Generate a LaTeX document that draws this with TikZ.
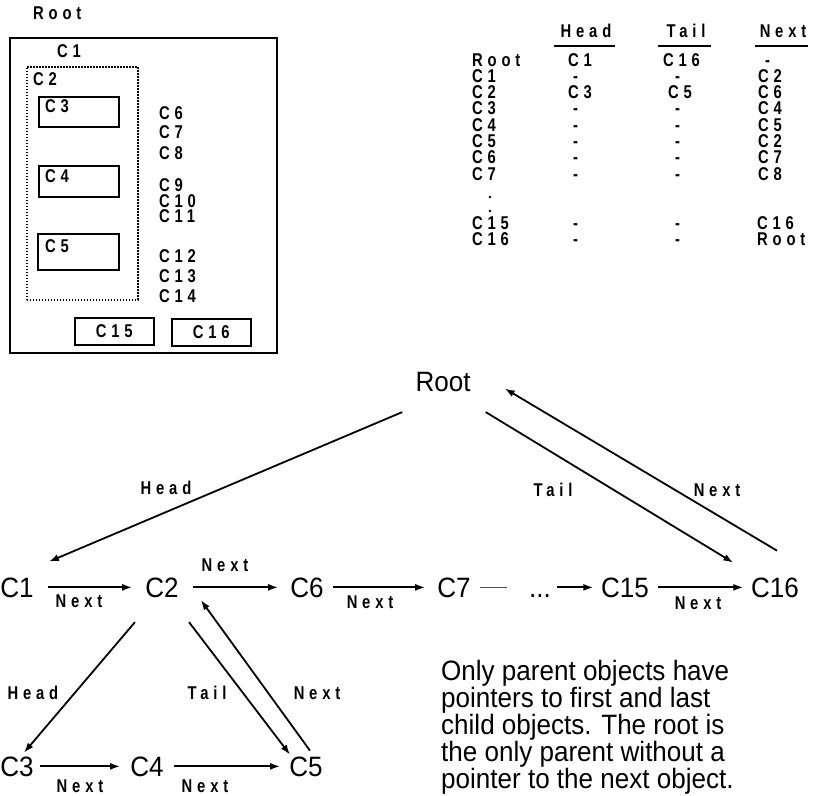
\documentclass[tikz,border=0pt]{standalone}
\usepackage{fontspec}
\setmainfont{Liberation Sans}
\newfontfamily\bigfont[FakeStretch=0.93]{Liberation Sans}
\newfontfamily\tagfont[FakeStretch=0.8,LetterSpace=26]{Liberation Sans Bold}
\usetikzlibrary{arrows.meta}

\begin{document}
\begin{tikzpicture}[x=1pt,y=-1pt,
  big/.style={font=\bigfont\fontsize{28}{28}\selectfont, inner sep=0pt, anchor=base},
  tag/.style={font=\tagfont\fontsize{18.5}{18.5}\selectfont, inner sep=0pt, text height=13pt, text depth=0pt},
  arr/.style={line width=1.8pt, -{Latex[length=10pt,width=7pt]}},
  box/.style={draw, line width=1.6pt, inner sep=0pt, anchor=north west},
  uline/.style={line width=1.6pt}]
\useasboundingbox (0,0) rectangle (813,795);

% ---------- containment sketch ----------
\node[tag, anchor=base west] (sRoot) at (33,19) {Root};
\node[box, minimum width=267pt, minimum height=315pt] (outer) at (9,37) {};
\node[tag, anchor=base west] (sC1) at (57,57) {C1};
\node[box, dash pattern=on 1.6pt off 1.4pt, minimum width=111pt, minimum height=233pt] (grp) at (26,66) {};
\node[tag, anchor=base west] (sC2) at (33,85) {C2};
\node[box, minimum width=80pt, minimum height=30pt] (b3) at (38,96) {};
\node[box, minimum width=80pt, minimum height=31pt] (b4) at (38,165) {};
\node[box, minimum width=81pt, minimum height=36pt] (b5) at (37,233) {};
\node[tag, anchor=base west] (sC3) at (45,112) {C3};
\node[tag, anchor=base west] (sC4) at (45,182) {C4};
\node[tag, anchor=base west] (sC5) at (45,252) {C5};
\foreach \nm/\yb in {C6/119, C7/138, C8/159, C9/191, C10/207, C11/222, C12/262, C13/282, C14/302}
  \node[tag, anchor=base west] (s\nm) at (159,\yb) {\nm};
\node[box, tag, draw, minimum width=79pt, minimum height=27pt] (b15) at (74,317) {C15};
\node[box, tag, draw, minimum width=79pt, minimum height=27pt] (b16) at (171,318) {C16};

% ---------- pointer table ----------
\node[tag, anchor=base] (hHead) at (586,37) {Head};
\node[tag, anchor=base] (hTail) at (686,37) {Tail};
\node[tag, anchor=base] (hNext) at (783,37) {Next};
\draw[uline] (554,46) -- (615,46);
\draw[uline] (658,46) -- (711,46);
\draw[uline] (755,46) -- (808,46);

\foreach \id/\lab/\yb/\hx/\hv/\tx/\tv/\nx/\nv in {
    0/Root/66/568/C1/663/C16/765/-,
    1/C1/82.3/573/-/675/-/758/C2,
    2/C2/98.6/568/C3/668/C5/758/C6,
    3/C3/114.9/573/-/675/-/758/C4,
    4/C4/131.2/573/-/675/-/758/C5,
    5/C5/147.5/573/-/675/-/758/C2,
    6/C6/163.8/573/-/675/-/758/C7,
    7/C7/180.1/573/-/675/-/758/C8,
    15/C15/229/573/-/675/-/757/C16,
    16/C16/245.3/573/-/675/-/757/Root}{
  \node[tag, anchor=base west] (row\id) at (472,\yb) {\lab};
  \node[tag, anchor=base west] (head\id) at (\hx,\yb) {\hv};
  \node[tag, anchor=base west] (tail\id) at (\tx,\yb) {\tv};
  \node[tag, anchor=base west] (next\id) at (\nx,\yb) {\nv};
}
\fill (490,197) circle (1.3pt);
\fill (490,211) circle (1.3pt);

% ---------- object graph ----------
\node[big] (Root) at (443,391) {Root};
\node[big] (C1) at (17,597) {C1};
\node[big] (C2) at (162,597) {C2};
\node[big] (C6) at (307,597) {C6};
\node[big] (C7) at (454,597) {C7};
\node[big] (dots) at (540,597) {\vphantom{C}...};
\node[big] (C15) at (625,597) {C15};
\node[big] (C16) at (775,597) {C16};
\node[big] (C3) at (17,776) {C3};
\node[big] (C4) at (147,776) {C4};
\node[big] (C5) at (306,776) {C5};

% root links
\draw[arr] ([xshift=-13pt,yshift=-20.6pt]Root.south west) -- ([xshift=15pt,yshift=15.6pt]C1.north east);
\draw[arr] ([xshift=15pt,yshift=-20.6pt]Root.south east) -- ([xshift=-17.6pt,yshift=14.6pt]C16.north west);
\draw[arr] ([xshift=2pt,yshift=26.6pt]C16.north) -- ([xshift=34pt,yshift=-7pt]Root.east);
\node[tag, anchor=base] (lHeadR) at (166,494) {Head};
\node[tag, anchor=base] (lTailR) at (553,496) {Tail};
\node[tag, anchor=base] (lNextR) at (717,496) {Next};

% sibling chain
\draw[arr, shorten <=14pt, shorten >=13pt] (C1.east) -- (C2.west);
\draw[arr, shorten <=14pt, shorten >=12pt] (C2.east) -- (C6.west);
\draw[arr, shorten <=9pt, shorten >=12pt] (C6.east) -- (C7.west);
\draw[line width=1.2pt, black!70, shorten <=9pt, shorten >=22pt] (C7.east) -- (dots.west);
\draw[arr, shorten <=6pt, shorten >=7.6pt] (dots.east) -- (C15.west);
\draw[arr, shorten <=8.6pt, shorten >=7.6pt] (C15.east) -- (C16.west);
\node[tag, anchor=base] (l12) at (79,607) {Next};
\node[tag, anchor=base] (l26) at (225,571) {Next};
\node[tag, anchor=base] (l67) at (370,608) {Next};
\node[tag, anchor=base] (l1516) at (698,609) {Next};

% children of C2
\draw[arr] ([xshift=-27pt,yshift=-24.6pt]C2.south) -- ([xshift=7pt,yshift=3.6pt]C3.north);
\draw[arr] ([xshift=27pt,yshift=-24.6pt]C2.south) -- ([xshift=-16pt,yshift=1.6pt]C5.north);
\draw[arr] ([xshift=4pt,yshift=5.6pt]C5.north) -- ([xshift=22pt,yshift=-2.6pt]C2.south east);
\node[tag, anchor=base] (lHeadC) at (33,699) {Head};
\node[tag, anchor=base] (lTailC) at (207,699) {Tail};
\node[tag, anchor=base] (lNextC) at (317,699) {Next};
\draw[arr, shorten <=6pt, shorten >=10pt] (C3.east) -- (C4.west);
\draw[arr, shorten <=10pt, shorten >=9pt] (C4.east) -- (C5.west);
\node[tag, anchor=base] (l34) at (80,792) {Next};
\node[tag, anchor=base] (l45) at (205,792) {Next};

% note
\node[font=\bigfont\fontsize{28}{23.2}\selectfont, align=left, inner sep=0pt, anchor=north west] (note) at (441,660)
  {Only parent objects have\\pointers to first and last\\child objects. The root is\\the only parent without a\\pointer to the next object.};
\end{tikzpicture}
\end{document}
